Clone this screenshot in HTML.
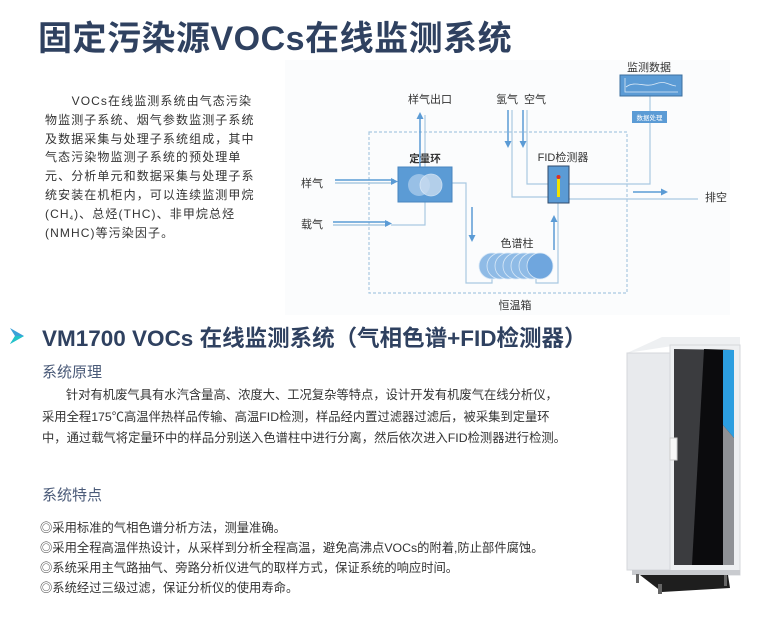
<!DOCTYPE html>
<html><head><meta charset="utf-8"><style>
body{margin:0;width:763px;height:635px;background:#fff;position:relative;overflow:hidden;font-family:"Liberation Sans","Noto Sans CJK SC",sans-serif;}
.a{position:absolute;white-space:nowrap;}
.t1{left:38px;top:11px;font-size:34px;font-weight:bold;color:#2f4160;letter-spacing:0.5px;}
.lp{left:45px;top:92px;width:210px;font-size:12px;line-height:18.8px;color:#333;letter-spacing:1.1px;white-space:normal;}
.h2{left:42px;top:321px;font-size:22.5px;font-weight:bold;color:#2f4160;}
.sub{font-size:15px;color:#4a5a78;}
.p{font-size:12.3px;color:#333;line-height:21.5px;}
.b{font-size:12.3px;color:#333;line-height:20px;}
sub{font-size:6px;line-height:0;vertical-align:-2px;}
</style></head><body>
<div class="a t1">固定污染源VOCs在线监测系统</div>
<div class="a lp">&nbsp;&nbsp;&nbsp;&nbsp;&nbsp;&nbsp;VOCs在线监测系统由气态污染物监测子系统、烟气参数监测子系统及数据采集与处理子系统组成，其中气态污染物监测子系统的预处理单元、分析单元和数据采集与处理子系统安装在机柜内，可以连续监测甲烷(CH<sub>4</sub>)、总烃(THC)、非甲烷总烃(NMHC)等污染因子。</div>

<svg class="a" style="left:0;top:0" width="763" height="320" font-family="Liberation Sans,Noto Sans CJK SC,sans-serif">
<rect x="285" y="60" width="445" height="255" fill="#fbfcfd"/>
<g stroke="#a9c9e2" stroke-width="1.2" fill="none">
<rect x="369" y="132" width="258" height="161" stroke-dasharray="3,2"/>
<polyline points="452,183 466,183 466,283 492,283 492,278"/>
<polyline points="536,278 536,283 558,283 558,203"/>
<polyline points="425,202 425,225 391,225"/>
<polyline points="512,110 512,197 548,197"/>
<polyline points="527,110 527,184 548,184"/>
<polyline points="569,184 650,184 650,123"/>
<line x1="650" y1="111" x2="650" y2="96"/>
<line x1="569" y1="199" x2="698" y2="199"/>
<line x1="425" y1="167" x2="425" y2="115"/>
</g>
<g stroke="#5b9bd5" stroke-width="1.5" fill="#5b9bd5">
<line x1="335" y1="180" x2="394" y2="180"/><line x1="335" y1="183" x2="394" y2="183" stroke="#a9c9e2"/><polygon points="398,181.5 391,178 391,185" stroke="none"/>
<line x1="333" y1="222" x2="388" y2="222"/><line x1="333" y1="225" x2="388" y2="225" stroke="#a9c9e2"/><polygon points="392,223.5 385,220 385,227" stroke="none"/>
<line x1="420" y1="167" x2="420" y2="118"/><polygon points="420,112 416.5,119 423.5,119" stroke="none"/>
<line x1="508" y1="110" x2="508" y2="143"/><polygon points="508,148 504.5,141 511.5,141" stroke="none"/>
<line x1="523" y1="110" x2="523" y2="143"/><polygon points="523,148 519.5,141 526.5,141" stroke="none"/>
<line x1="472" y1="207" x2="472" y2="237"/><polygon points="472,242 468.5,235 475.5,235" stroke="none"/>
<line x1="554" y1="250" x2="554" y2="220"/><polygon points="554,215 550.5,222 557.5,222" stroke="none"/>
<line x1="633" y1="192" x2="663" y2="192"/><polygon points="668,192 661,188.5 661,195.5" stroke="none"/>
</g>
<rect x="398" y="167" width="54" height="35" fill="#5b9bd5" stroke="#4a86c0"/>
<circle cx="419" cy="185" r="11" fill="#9fc4e8" opacity="0.9"/>
<circle cx="431" cy="185" r="11" fill="#c9dcf0" opacity="0.8" stroke="#e6f0fa" stroke-width="0.8"/>
<rect x="548" y="166" width="21" height="37" fill="#5b9bd5" stroke="#2f4a6a"/>
<rect x="557" y="179" width="3" height="18" fill="#f2e200"/>
<circle cx="558.5" cy="177" r="2" fill="#e03020"/>
<g fill="#8fbbe6" stroke="#d8e8f7" stroke-width="0.8">
<circle cx="492" cy="266" r="13"/><circle cx="500" cy="266" r="13"/><circle cx="508" cy="266" r="13"/><circle cx="516" cy="266" r="13"/><circle cx="524" cy="266" r="13"/><circle cx="532" cy="266" r="13"/><circle cx="540" cy="266" r="13" fill="#6fa6de"/>
</g>
<rect x="620" y="75" width="62" height="21" fill="#5b9bd5" stroke="#3d6f9e"/>
<path d="M625 78 V92 H678 M626 87 C635 80,645 88,655 84 S668 85,676 86" stroke="#dbe9f6" fill="none" stroke-width="0.8"/>
<rect x="632" y="111" width="35" height="12" fill="#5b9bd5"/>
<text x="649.5" y="120" font-size="6.5" fill="#fff" text-anchor="middle">数据处理</text>
<g font-size="11" fill="#333" text-anchor="middle">
<text x="649" y="71">监测数据</text>
<text x="430" y="103">样气出口</text>
<text x="507" y="103">氢气</text><text x="535" y="103">空气</text>
<text x="425" y="162" font-weight="bold" font-size="10.5">定量环</text>
<text x="563" y="161">FID检测器</text>
<text x="312" y="187">样气</text><text x="312" y="228">载气</text>
<text x="716" y="201">排空</text>
<text x="517" y="247">色谱柱</text>
<text x="515" y="309">恒温箱</text>
</g>
</svg>

<svg class="a" style="left:9px;top:327px" width="16" height="18"><polygon points="1,1 15,9 1,17 6,9" fill="#3aa0d8"/><polygon points="6,9 15,9 1,17" fill="#22c4c8"/></svg>
<div class="a h2">VM1700 VOCs 在线监测系统（气相色谱+FID检测器）</div>
<div class="a sub" style="left:42px;top:361px">系统原理</div>
<div class="a p" style="left:42px;top:385px">&nbsp;&nbsp;&nbsp;&nbsp;&nbsp;&nbsp;&nbsp;针对有机废气具有水汽含量高、浓度大、工况复杂等特点，设计开发有机废气在线分析仪，<br>采用全程175℃高温伴热样品传输、高温FID检测，样品经内置过滤器过滤后，被采集到定量环<br>中，通过载气将定量环中的样品分别送入色谱柱中进行分离，然后依次进入FID检测器进行检测。</div>
<div class="a sub" style="left:42px;top:484px">系统特点</div>
<div class="a b" style="left:40px;top:518px">◎采用标准的气相色谱分析方法，测量准确。<br>◎采用全程高温伴热设计，从采样到分析全程高温，避免高沸点VOCs的附着,防止部件腐蚀。<br>◎系统采用主气路抽气、旁路分析仪进气的取样方式，保证系统的响应时间。<br>◎系统经过三级过滤，保证分析仪的使用寿命。</div>

<svg class="a" style="left:600px;top:320px" width="163" height="300">
<polygon points="27,33 62,17 140,17 140,26 72,26" fill="#eef0f2"/>
<rect x="27" y="33" width="45" height="217" fill="#e8eaed" stroke="#d5d7db"/>
<rect x="70" y="25" width="70" height="230" fill="#eef0f2" stroke="#d5d7db"/>
<polygon points="74,29 134,30 134,245 74,245" fill="#3b3c3f"/>
<polygon points="104,29 134,30 134,245 92,245" fill="#0b0b0d"/>
<polygon points="123,30 134,30 134,118 123,105" fill="#2c9ee0"/>
<polygon points="123,105 134,118 134,245 123,245" fill="#8f9195"/>
<rect x="70" y="118" width="7" height="22" fill="#f7f7f7" stroke="#ccc"/>
<rect x="32" y="250" width="108" height="5" fill="#c9cbcf"/>
<polygon points="40,255 62,272 130,268 128,255" fill="#1e1e1e"/>
<rect x="36" y="254" width="3" height="9" fill="#666"/><rect x="58" y="264" width="4" height="10" fill="#666"/><rect x="124" y="255" width="3" height="11" fill="#666"/>
</svg>
</body></html>
